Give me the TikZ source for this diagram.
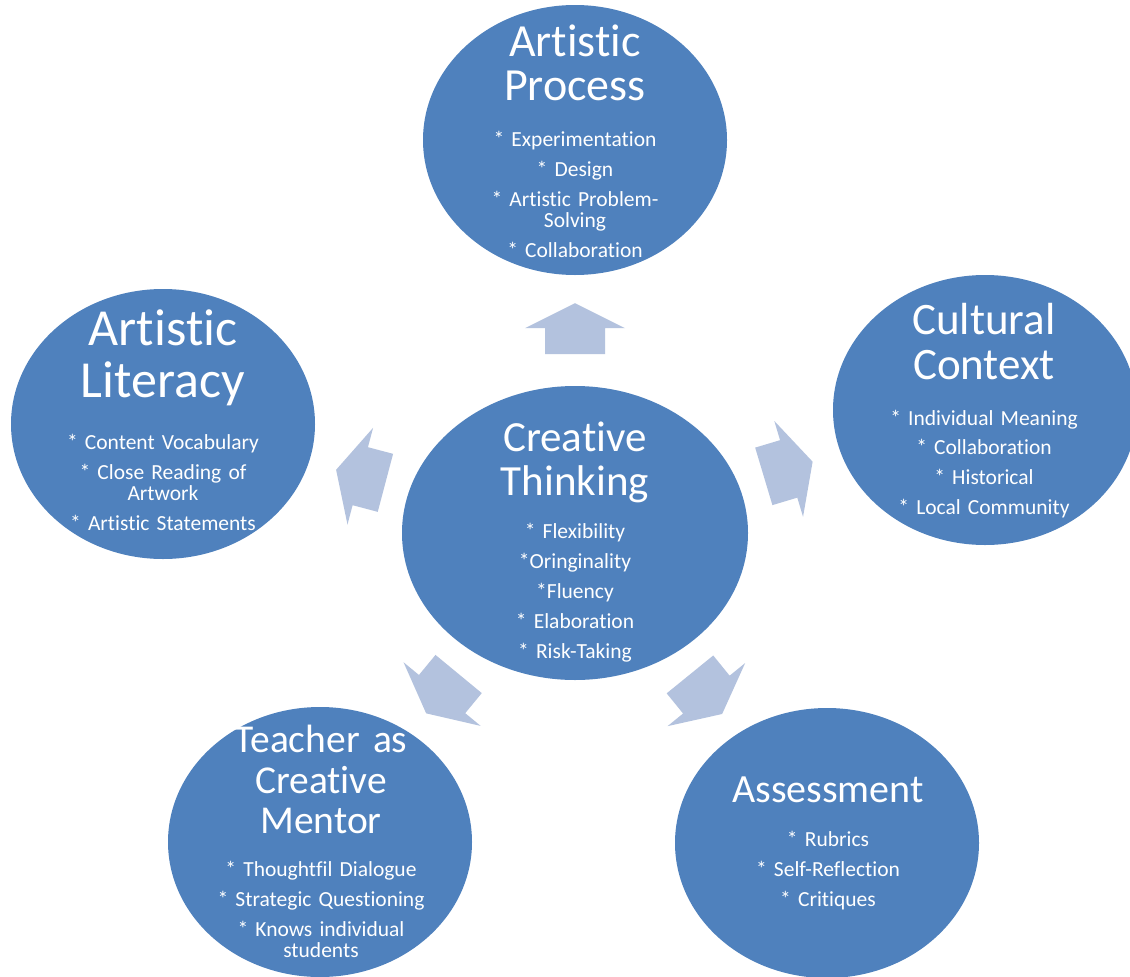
\documentclass[tikz,border=0pt]{standalone}
\usepackage{fontspec}
\setmainfont{Carlito}[Ligatures={NoCommon}]
\usetikzlibrary{shapes.geometric}
\definecolor{bubbleblue}{RGB}{79,129,189}
\definecolor{arrowblue}{RGB}{179,194,222}

\begin{document}
\begin{tikzpicture}[x=1pt, y=1pt,
	bubble/.style={ellipse, fill=bubbleblue, inner sep=0pt, minimum width=304pt, minimum height=270pt},
	head/.style 2 args={text=white, inner sep=0pt, text width=320pt, align=center, anchor=base, font=\fontsize{#1}{#2}\selectfont},
	items/.style={text=white, inner sep=0pt, text width=320pt, align=center, anchor=base, font=\fontsize{21.5}{21}\selectfont},
	blockarrow/.pic={\fill[arrowblue] (-25.5,-30) -- (0.5,-30) -- (0.5,-50) -- (25.5,0) -- (0.5,50) -- (0.5,30) -- (-25.5,30) -- cycle;}]
	% 画布
	\path[use as bounding box, fill=white] (0,-977) rectangle (1130,0);
	
	% 中心圆与外围五个圆
	\node[bubble, minimum width=346pt, minimum height=294pt] (ct) at (575,-533) {};
	\node[bubble] (ap) at (575,-140) {};
	\node[bubble] (al) at (163,-424) {};
	\node[bubble] (cc) at (985,-410) {};
	\node[bubble] (tm) at (320,-842) {};
	\node[bubble] (as) at (827,-843) {};
	
	% 从中心指向外围的块状箭头
	\foreach \n in {ap,al,cc,tm,as}
		\path (ct.center) -- (\n.center) pic[pos=0.52, sloped, allow upside down] {blockarrow};
	
	% Creative Thinking
	\node[head={43}{43.3}] (ct-t) at (575,-451.7) {Creative\\Thinking};
	\node[items] (ct-i) at (575,-538.3) {* Flexibility\\[9pt]*Oringinality\\[9pt]*Fluency\\[9pt]* Elaboration\\[9pt]* Risk-Taking};
	
	% Artistic Process
	\node[head={46}{44.5}] (ap-t) at (575,-56) {Artistic\\Process};
	\node[items] (ap-i) at (575,-146.7) {* Experimentation\\[9pt]* Design\\[9pt]* Artistic Problem-\\Solving\\[9pt]* Collaboration};
	
	% Artistic Literacy
	\node[head={52}{52}] (al-t) at (163,-345) {Artistic\\Literacy};
	\node[items] (al-i) at (163,-449.3) {* Content Vocabulary\\[9pt]* Close Reading of\\Artwork\\[9pt]* Artistic Statements};
	
	% Cultural Context
	\node[head={45}{45.3}] (cc-t) at (984,-334) {Cultural\\Context};
	\node[items] (cc-i) at (984,-425) {* Individual Meaning\\[8.7pt]* Collaboration\\[8.7pt]* Historical\\[8.7pt]* Local Community};
	
	% Teacher as Creative Mentor
	\node[head={39.5}{40.3}] (tm-t) at (321,-752.7) {Teacher as\\Creative\\Mentor};
	\node[items] (tm-i) at (321,-876) {* Thoughtfil Dialogue\\[9pt]* Strategic Questioning\\[9pt]* Knows individual\\students};
	
	% Assessment
	\node[head={40}{40}] (as-t) at (828,-802.7) {Assessment};
	\node[items] (as-i) at (828,-846.7) {* Rubrics\\[9pt]* Self-Reflection\\[9pt]* Critiques};
\end{tikzpicture}
\end{document}
